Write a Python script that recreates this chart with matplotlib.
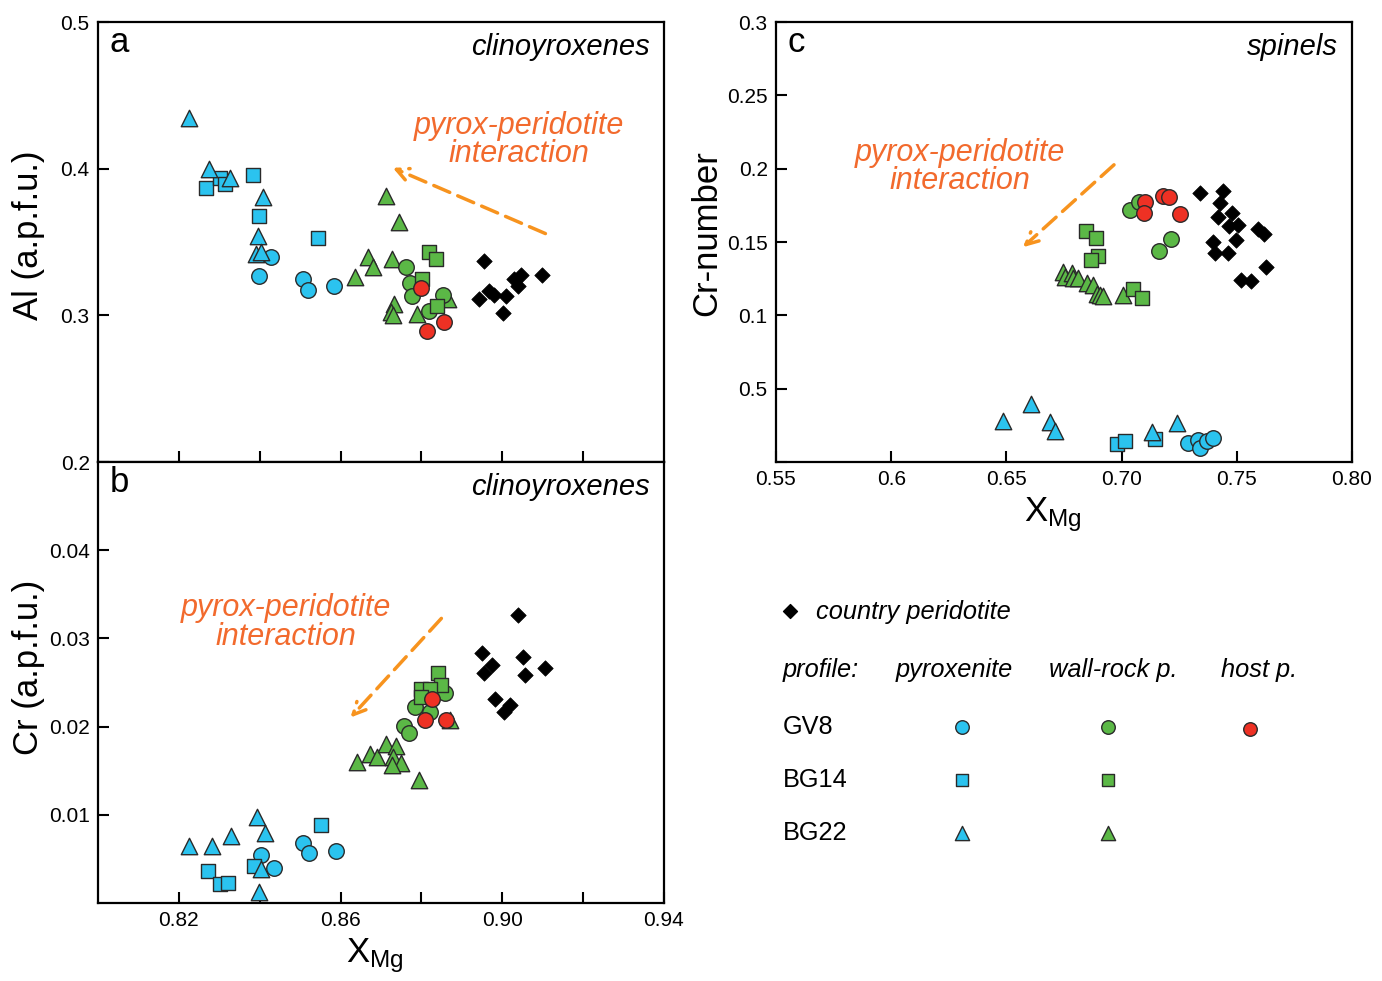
import matplotlib.pyplot as plt
from matplotlib.ticker import FixedLocator, NullFormatter

plt.rcParams['font.family'] = ['Liberation Sans', 'DejaVu Sans']
plt.rcParams['mathtext.default'] = 'regular'

BLUE = '#2BC3EF'
GREEN = '#5BB846'
RED = '#EE3124'
EDGE = '#2a2a2a'
ORANGE_TXT = '#F26A2D'
ORANGE_ARR = '#F7931E'

# ---- panel a: clinopyroxene Al (a.p.f.u.) vs XMg
a_pyx_gv8_x = [0.8427, 0.8399, 0.8506, 0.8519, 0.8584]
a_pyx_gv8_y = [0.3400, 0.3268, 0.3246, 0.3171, 0.3198]
a_pyx_bg14_x = [0.8267, 0.8301, 0.8313, 0.8383, 0.8399, 0.8543]
a_pyx_bg14_y = [0.3870, 0.3934, 0.3893, 0.3957, 0.3679, 0.3527]
a_pyx_bg22_x = [0.8224, 0.8275, 0.8326, 0.8407, 0.8396, 0.8392, 0.8402]
a_pyx_bg22_y = [0.4345, 0.3996, 0.3934, 0.3809, 0.3543, 0.3416, 0.3434]
a_wr_gv8_x = [0.8761, 0.8771, 0.8776, 0.8853, 0.8818]
a_wr_gv8_y = [0.3332, 0.3218, 0.3132, 0.3139, 0.3032]
a_wr_bg14_x = [0.8818, 0.8835, 0.8801, 0.8838]
a_wr_bg14_y = [0.3434, 0.3384, 0.3246, 0.3066]
a_wr_bg22_x = [0.8712, 0.8745, 0.8667, 0.8680, 0.8635, 0.8728, 0.8733, 0.8725, 0.8730, 0.8789, 0.8865]
a_wr_bg22_y = [0.3814, 0.3634, 0.3396, 0.3332, 0.3259, 0.3382, 0.3075, 0.3025, 0.3002, 0.3009, 0.3109]
a_host_x = [0.8798, 0.8855, 0.8813]
a_host_y = [0.3184, 0.2955, 0.2891]
a_cp_x = [0.8954, 0.9047, 0.9097, 0.9030, 0.9039, 0.8966, 0.8979, 0.8943, 0.9008, 0.9002]
a_cp_y = [0.3373, 0.3275, 0.3275, 0.3246, 0.3202, 0.3168, 0.3139, 0.3113, 0.3132, 0.3018]

# ---- panel b: clinopyroxene Cr (a.p.f.u.) vs XMg
b_pyx_gv8_x = [0.8402, 0.8435, 0.8507, 0.8522, 0.8588]
b_pyx_gv8_y = [0.0054, 0.0040, 0.0068, 0.0057, 0.0059]
b_pyx_bg14_x = [0.8273, 0.8301, 0.8321, 0.8387, 0.8551]
b_pyx_bg14_y = [0.0036, 0.0021, 0.0023, 0.0042, 0.0089]
b_pyx_bg22_x = [0.8225, 0.8281, 0.8328, 0.8394, 0.8412, 0.8404, 0.8398]
b_pyx_bg22_y = [0.0065, 0.0065, 0.0076, 0.0098, 0.0079, 0.0038, 0.0012]
b_wr_gv8_x = [0.8783, 0.8821, 0.8858, 0.8756, 0.8770]
b_wr_gv8_y = [0.0222, 0.0216, 0.0238, 0.0201, 0.0193]
b_wr_bg14_x = [0.8840, 0.8848, 0.8798, 0.8821, 0.8799]
b_wr_bg14_y = [0.0261, 0.0247, 0.0243, 0.0243, 0.0233]
b_wr_bg22_x = [0.8641, 0.8672, 0.8689, 0.8713, 0.8736, 0.8730, 0.8749, 0.8728, 0.8793, 0.8870]
b_wr_bg22_y = [0.0160, 0.0169, 0.0166, 0.0180, 0.0178, 0.0165, 0.0159, 0.0156, 0.0139, 0.0208]
b_host_x = [0.8826, 0.8808, 0.8860]
b_host_y = [0.0231, 0.0208, 0.0208]
b_cp_x = [0.9039, 0.8950, 0.8975, 0.8956, 0.9051, 0.9106, 0.9057, 0.8981, 0.9018, 0.9005]
b_cp_y = [0.0327, 0.0283, 0.0270, 0.0261, 0.0279, 0.0267, 0.0258, 0.0231, 0.0224, 0.0216]

# ---- panel c: spinel Cr-number vs XMg
c_pyx_gv8_x = [0.7290, 0.7333, 0.7340, 0.7369, 0.7398]
c_pyx_gv8_y = [0.0132, 0.0150, 0.0093, 0.0145, 0.0162]
c_pyx_bg14_x = [0.6979, 0.7015, 0.7145]
c_pyx_bg14_y = [0.0123, 0.0145, 0.0155]
c_pyx_bg22_x = [0.6484, 0.6607, 0.6689, 0.6712, 0.7131, 0.7239]
c_pyx_bg22_y = [0.0282, 0.0395, 0.0275, 0.0214, 0.0202, 0.0264]
c_wr_gv8_x = [0.7036, 0.7076, 0.7214, 0.7162]
c_wr_gv8_y = [0.1716, 0.1773, 0.1520, 0.1439]
c_wr_bg14_x = [0.6845, 0.6889, 0.6899, 0.6867, 0.7048, 0.7090]
c_wr_bg14_y = [0.1577, 0.1525, 0.1407, 0.1377, 0.1177, 0.1120]
c_wr_bg22_x = [0.6747, 0.6754, 0.6783, 0.6790, 0.6812, 0.6848, 0.6877, 0.6892, 0.6906, 0.6921, 0.7008]
c_wr_bg22_y = [0.1298, 0.1263, 0.1286, 0.1252, 0.1252, 0.1218, 0.1207, 0.1145, 0.1139, 0.1132, 0.1139]
c_host_x = [0.7102, 0.7099, 0.7181, 0.7207, 0.7253]
c_host_y = [0.1775, 0.1700, 0.1816, 0.1805, 0.1691]
c_cp_x = [0.7340, 0.7439, 0.7427, 0.7479, 0.7418, 0.7506, 0.7467, 0.7593, 0.7618, 0.7495,
          0.7398, 0.7407, 0.7460, 0.7627, 0.7520, 0.7560]
c_cp_y = [0.1832, 0.1850, 0.1768, 0.1700, 0.1673, 0.1616, 0.1609, 0.1587, 0.1552, 0.1514,
          0.1502, 0.1427, 0.1427, 0.1327, 0.1241, 0.1234]

c_xticks = [0.55, 0.60, 0.65, 0.70, 0.75, 0.80]
c_xticklabels = ['0.55', '0.6', '0.65', '0.70', '0.75', '0.80']
c_yticks = [0.0, 0.05, 0.10, 0.15, 0.20, 0.25, 0.30]
c_yticklabels = ['', '0.5', '0.1', '0.15', '0.2', '0.25', '0.3']

S_CIRC, S_SQ, S_TRI, S_DIA = 125, 88, 140, 62


def plot_groups(ax, d):
    kw = dict(edgecolors=EDGE, linewidths=1.0)
    ax.scatter(d[0], d[1], s=S_CIRC, marker='o', c=BLUE, zorder=3, **kw)
    ax.scatter(d[2], d[3], s=S_SQ, marker='s', c=BLUE, zorder=3, **kw)
    ax.scatter(d[4], d[5], s=S_TRI, marker='^', c=BLUE, zorder=3, **kw)
    ax.scatter(d[10], d[11], s=S_TRI, marker='^', c=GREEN, zorder=4, **kw)
    ax.scatter(d[6], d[7], s=S_CIRC, marker='o', c=GREEN, zorder=4, **kw)
    ax.scatter(d[8], d[9], s=S_SQ, marker='s', c=GREEN, zorder=4, **kw)
    ax.scatter(d[12], d[13], s=S_CIRC, marker='o', c=RED, zorder=5, **kw)
    ax.scatter(d[14], d[15], s=S_DIA, marker='D', c='black', edgecolors='black',
               linewidths=0.5, zorder=6)


def style(ax):
    for sp in ax.spines.values():
        sp.set_linewidth(1.6)
    ax.tick_params(which='both', direction='in', length=8, width=1.5,
                   labelsize=15, pad=6)


def interaction(ax, tx, ty, x0, y0, x1, y1):
    ax.text(tx, ty, 'pyrox-peridotite\ninteraction', color=ORANGE_TXT,
            fontsize=22, style='italic', ha='center', va='center',
            linespacing=0.95)
    ax.annotate('', xy=(x1, y1), xytext=(x0, y0),
                arrowprops=dict(arrowstyle='->', color=ORANGE_ARR, lw=2.5,
                                linestyle=(0, (5, 2.5)), mutation_scale=22))


fig = plt.figure(figsize=(13.82, 9.81), dpi=100)
axa = fig.add_axes([98 / 1382, 1 - 462 / 981, 566 / 1382, 440 / 981])
axb = fig.add_axes([98 / 1382, 1 - 903 / 981, 566 / 1382, 441 / 981])
axc = fig.add_axes([776 / 1382, 1 - 462 / 981, 576 / 1382, 440 / 981])

# panel a
plot_groups(axa, [a_pyx_gv8_x, a_pyx_gv8_y, a_pyx_bg14_x, a_pyx_bg14_y, a_pyx_bg22_x, a_pyx_bg22_y,
                  a_wr_gv8_x, a_wr_gv8_y, a_wr_bg14_x, a_wr_bg14_y, a_wr_bg22_x, a_wr_bg22_y,
                  a_host_x, a_host_y, a_cp_x, a_cp_y])
axa.set_xlim(0.80, 0.94)
axa.set_ylim(0.2, 0.5)
axa.xaxis.set_major_locator(FixedLocator([0.82, 0.84, 0.86, 0.88, 0.90, 0.92]))
axa.xaxis.set_major_formatter(NullFormatter())
axa.yaxis.set_major_locator(FixedLocator([0.2, 0.3, 0.4, 0.5]))
axa.set_yticklabels(['0.2', '0.3', '0.4', '0.5'])
style(axa)
axa.set_ylabel('Al (a.p.f.u.)', fontsize=25)
axa.yaxis.set_label_coords(-0.094, 0.515)
axa.text(0.02, 0.99, 'a', transform=axa.transAxes, fontsize=25, va='top')
axa.text(0.975, 0.975, 'clinoyroxenes', transform=axa.transAxes, fontsize=21,
         style='italic', ha='right', va='top')
interaction(axa, 0.9042, 0.4195, 0.9113, 0.3550, 0.8723, 0.4013)

# panel b
plot_groups(axb, [b_pyx_gv8_x, b_pyx_gv8_y, b_pyx_bg14_x, b_pyx_bg14_y, b_pyx_bg22_x, b_pyx_bg22_y,
                  b_wr_gv8_x, b_wr_gv8_y, b_wr_bg14_x, b_wr_bg14_y, b_wr_bg22_x, b_wr_bg22_y,
                  b_host_x, b_host_y, b_cp_x, b_cp_y])
axb.set_xlim(0.80, 0.94)
axb.set_ylim(0.0, 0.05)
axb.xaxis.set_major_locator(FixedLocator([0.82, 0.86, 0.90, 0.94]))
axb.set_xticklabels(['0.82', '0.86', '0.90', '0.94'])
axb.xaxis.set_minor_locator(FixedLocator([0.84, 0.88, 0.92]))
axb.yaxis.set_major_locator(FixedLocator([0.01, 0.02, 0.03, 0.04]))
axb.set_yticklabels(['0.01', '0.02', '0.03', '0.04'])
style(axb)
axb.set_ylabel('Cr (a.p.f.u.)', fontsize=25)
axb.yaxis.set_label_coords(-0.094, 0.535)
axb.set_xlabel(r'X$_{Mg}$', fontsize=25, labelpad=5)
axb.xaxis.set_label_coords(0.49, -0.075)
axb.text(0.02, 0.99, 'b', transform=axb.transAxes, fontsize=25, va='top')
axb.text(0.975, 0.975, 'clinoyroxenes', transform=axb.transAxes, fontsize=21,
         style='italic', ha='right', va='top')
interaction(axb, 0.8464, 0.0318, 0.8854, 0.0325, 0.8620, 0.0208)

# panel c
plot_groups(axc, [c_pyx_gv8_x, c_pyx_gv8_y, c_pyx_bg14_x, c_pyx_bg14_y, c_pyx_bg22_x, c_pyx_bg22_y,
                  c_wr_gv8_x, c_wr_gv8_y, c_wr_bg14_x, c_wr_bg14_y, c_wr_bg22_x, c_wr_bg22_y,
                  c_host_x, c_host_y, c_cp_x, c_cp_y])
axc.set_xlim(0.55, 0.80)
axc.set_ylim(0.0, 0.30)
axc.xaxis.set_major_locator(FixedLocator(c_xticks))
axc.set_xticklabels(c_xticklabels)
axc.yaxis.set_major_locator(FixedLocator(c_yticks))
axc.set_yticklabels(c_yticklabels)
style(axc)
axc.set_ylabel('Cr-number', fontsize=25)
axc.yaxis.set_label_coords(-0.092, 0.52)
axc.set_xlabel(r'X$_{Mg}$', fontsize=25)
axc.xaxis.set_label_coords(0.48, -0.075)
axc.text(0.02, 0.99, 'c', transform=axc.transAxes, fontsize=25, va='top')
axc.text(0.975, 0.975, 'spinels', transform=axc.transAxes, fontsize=21,
         style='italic', ha='right', va='top')
interaction(axc, 0.6299, 0.2011, 0.6976, 0.2039, 0.6563, 0.1452)

# legend drawn in figure pixel space
leg = fig.add_axes([0, 0, 1, 1], zorder=-1)
leg.set_xlim(0, 1382)
leg.set_ylim(981, 0)
leg.axis('off')
leg.scatter([790], [611], s=50, marker='D', c='black')
leg.text(816, 612, 'country peridotite', fontsize=18.3, style='italic', va='center')
leg.text(783, 670, 'profile:', fontsize=18.3, style='italic', va='center')
leg.text(954, 670, 'pyroxenite', fontsize=18.3, style='italic', va='center', ha='center')
leg.text(1113, 670, 'wall-rock p.', fontsize=18.3, style='italic', va='center', ha='center')
leg.text(1259, 670, 'host p.', fontsize=18.3, style='italic', va='center', ha='center')
row_names = ['GV8', 'BG14', 'BG22']
row_y = [727, 780, 833]
row_marker = ['o', 's', '^']
for name, yy, mk in zip(row_names, row_y, row_marker):
    leg.text(783, yy, name, fontsize=18.3, va='center')
    ss = {'o': 95, 's': 68, '^': 105}[mk]
    leg.scatter([962], [yy], s=ss, marker=mk, c=BLUE, edgecolors=EDGE, linewidths=1.0)
    leg.scatter([1108], [yy], s=ss, marker=mk, c=GREEN, edgecolors=EDGE, linewidths=1.0)
leg.scatter([1250], [729], s=95, marker='o', c=RED, edgecolors=EDGE, linewidths=1.0)

fig.savefig('out.png', dpi=100)
